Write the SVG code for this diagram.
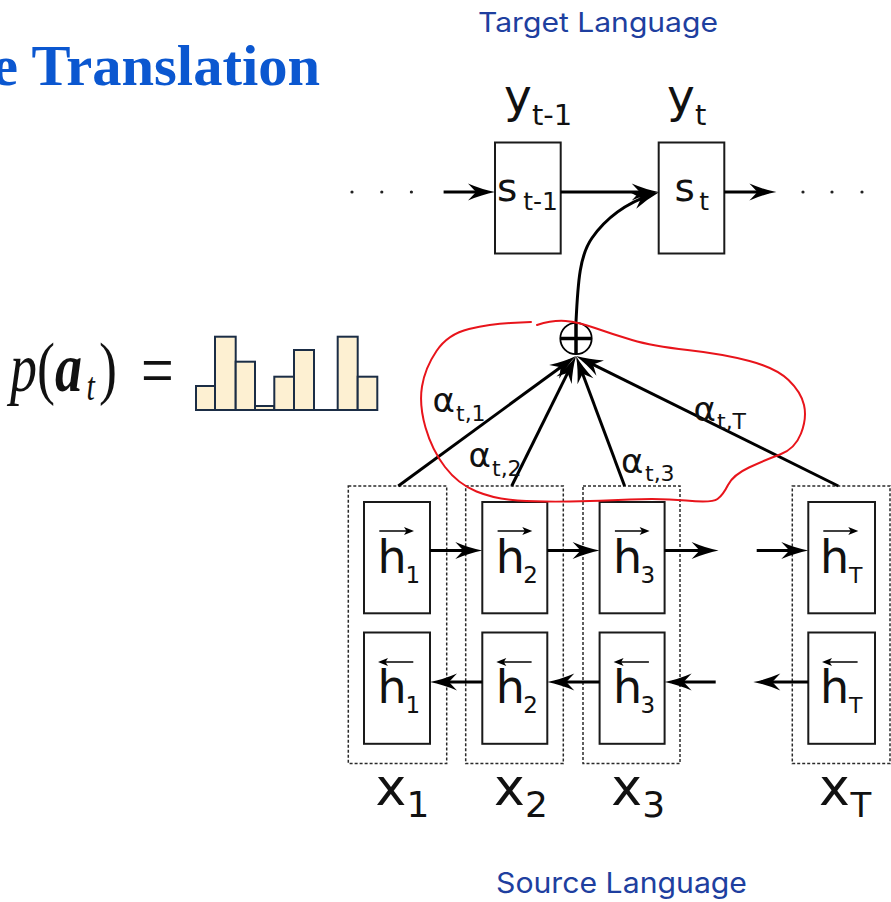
<svg xmlns="http://www.w3.org/2000/svg" width="891" height="902" viewBox="0 0 891 902">
  <style>
    .title { font-family: "Liberation Serif", "DejaVu Serif", serif; font-weight: bold; fill: #0b57d0; }
    .lang { font-family: Inter, "Liberation Sans", sans-serif; fill: #1e3f9f; }
    .lbl { font-family: "DejaVu Sans", "Liberation Sans", sans-serif; fill: #111; }
    .math { font-family: "Liberation Serif", "DejaVu Serif", serif; fill: #111; }
    .cell { fill: #fff; stroke: #1a1a1a; stroke-width: 2; }
    .group { fill: none; stroke: #2a2a2a; stroke-width: 1.5; stroke-dasharray: 3 2; }
    .edge { fill: none; stroke: #000; stroke-width: 3; marker-end: url(#stealth); }
    .vec { stroke: #000; stroke-width: 1.5; }
    .bar { fill: #fdf0d2; stroke: #1b2d45; stroke-width: 2; }
    .dot { fill: #222; }
  </style>
  <defs>
    <!-- barbed arrowhead; tip sits 8px past the line end -->
    <marker id="stealth" markerUnits="userSpaceOnUse" viewBox="-24 -12 34 24" refX="0" refY="0" markerWidth="34" markerHeight="24" orient="auto" overflow="visible">
      <path d="M8,0 Q-5,-2.5 -19,-8.5 L-11,0 L-19,8.5 Q-5,2.5 8,0 Z" fill="#000"/>
    </marker>
  </defs>

  <!-- heading -->
  <text class="title" x="-8" y="85" font-size="58" textLength="328" lengthAdjust="spacingAndGlyphs">e Translation</text>
  <text class="lang" x="598" y="32" font-size="27" text-anchor="middle" textLength="240" lengthAdjust="spacingAndGlyphs">Target Language</text>
  <text class="lang" x="621.5" y="893" font-size="28" text-anchor="middle" textLength="251" lengthAdjust="spacingAndGlyphs">Source Language</text>

  <!-- attention distribution p(a_t) -->
  <g id="distribution">
    <g transform="translate(0,391) scale(1,1.3) translate(0,-391)">
      <text class="math" y="391" font-size="54"><tspan x="10" font-style="italic">p</tspan><tspan x="37">(</tspan><tspan x="55" font-style="italic" font-weight="bold">a</tspan><tspan x="86.5" y="398" font-size="30" font-style="italic">t</tspan><tspan x="99" y="391">)</tspan><tspan x="141" y="395" font-size="58">=</tspan></text>
    </g>
    <rect class="bar" x="196" y="386" width="19" height="24"/>
    <rect class="bar" x="215" y="336.7" width="20.7" height="73.3"/>
    <rect class="bar" x="235.7" y="361.7" width="19.3" height="48.3"/>
    <rect class="bar" x="255" y="406" width="19.3" height="4"/>
    <rect class="bar" x="274.3" y="376.7" width="19.7" height="33.3"/>
    <rect class="bar" x="294" y="350" width="20" height="60"/>
    <rect class="bar" x="337.7" y="336.7" width="20" height="73.3"/>
    <rect class="bar" x="357.7" y="376.7" width="19.6" height="33.3"/>
    <line x1="196" y1="410" x2="377.3" y2="410" stroke="#1b2d45" stroke-width="2"/>
  </g>

  <!-- decoder states -->
  <g id="s-prev">
    <rect class="cell" x="495" y="142.5" width="65.7" height="111"/>
    <text class="lbl" x="497" y="201" font-size="39">s</text>
    <text class="lbl" x="523.3" y="210" font-size="25">t-1</text>
    <text class="lbl" x="504" y="112" font-size="47">y</text>
    <text class="lbl" x="532" y="125" font-size="29">t-1</text>
  </g>
  <g id="s-cur">
    <rect class="cell" x="658.7" y="142.5" width="65.6" height="111"/>
    <text class="lbl" x="674.5" y="201" font-size="39">s</text>
    <text class="lbl" x="699.3" y="210" font-size="25">t</text>
    <text class="lbl" x="667" y="112" font-size="47">y</text>
    <text class="lbl" x="695" y="125" font-size="29">t</text>
  </g>
  <g id="ellipsis">
    <circle class="dot" cx="352" cy="192" r="1.6"/>
    <circle class="dot" cx="381.8" cy="192" r="1.6"/>
    <circle class="dot" cx="411.4" cy="192" r="1.6"/>
    <circle class="dot" cx="803" cy="192" r="1.6"/>
    <circle class="dot" cx="832" cy="192" r="1.6"/>
    <circle class="dot" cx="862" cy="192" r="1.6"/>
  </g>

  <!-- encoder annotations: one dashed column per source position -->
  <g id="col-1">
    <rect class="group" x="348.3" y="486" width="98.4" height="277.5"/>
    <rect class="cell" x="364" y="502" width="66" height="111.3"/>
    <rect class="cell" x="364" y="632.5" width="66" height="111.3"/>
    <line class="vec" x1="379.3" y1="531" x2="408" y2="531"/><path d="M414,531 L404,527 L406.5,531 L404,535 Z"/>
    <text class="lbl" x="377.5" y="573" font-size="46">h</text>
    <text class="lbl" x="405.6" y="583" font-size="23">1</text>
    <line class="vec" x1="384" y1="662" x2="413.3" y2="662"/><path d="M378,662 L388,658 L385.5,662 L388,666 Z"/>
    <text class="lbl" x="377.5" y="703" font-size="46">h</text>
    <text class="lbl" x="405.6" y="713" font-size="23">1</text>
    <text class="lbl" x="375.5" y="805" font-size="52">x</text>
    <text class="lbl" x="406.5" y="817" font-size="36">1</text>
  </g>
  <g id="col-2">
    <rect class="group" x="465.7" y="486" width="97.6" height="277.5"/>
    <rect class="cell" x="482.3" y="502" width="65" height="111.3"/>
    <rect class="cell" x="482.3" y="632.5" width="65" height="111.3"/>
    <line class="vec" x1="497.6" y1="531" x2="526.3" y2="531"/><path d="M532.3,531 L522.3,527 L524.8,531 L522.3,535 Z"/>
    <text class="lbl" x="495.8" y="573" font-size="46">h</text>
    <text class="lbl" x="523.3" y="583" font-size="23">2</text>
    <line class="vec" x1="502.3" y1="662" x2="531.6" y2="662"/><path d="M496.3,662 L506.3,658 L503.8,662 L506.3,666 Z"/>
    <text class="lbl" x="495.8" y="703" font-size="46">h</text>
    <text class="lbl" x="523.3" y="713" font-size="23">2</text>
    <text class="lbl" x="493.9" y="805" font-size="52">x</text>
    <text class="lbl" x="524.9" y="817" font-size="36">2</text>
  </g>
  <g id="col-3">
    <rect class="group" x="583" y="486" width="97" height="277.5"/>
    <rect class="cell" x="599.6" y="502" width="65" height="111.3"/>
    <rect class="cell" x="599.6" y="632.5" width="65" height="111.3"/>
    <line class="vec" x1="614.9" y1="531" x2="643.6" y2="531"/><path d="M649.6,531 L639.6,527 L642.1,531 L639.6,535 Z"/>
    <text class="lbl" x="613.1" y="573" font-size="46">h</text>
    <text class="lbl" x="640.6" y="583" font-size="23">3</text>
    <line class="vec" x1="619.6" y1="662" x2="648.9" y2="662"/><path d="M613.6,662 L623.6,658 L621.1,662 L623.6,666 Z"/>
    <text class="lbl" x="613.1" y="703" font-size="46">h</text>
    <text class="lbl" x="640.6" y="713" font-size="23">3</text>
    <text class="lbl" x="611.2" y="805" font-size="52">x</text>
    <text class="lbl" x="642.2" y="817" font-size="36">3</text>
  </g>
  <g id="col-T">
    <rect class="group" x="792.3" y="486" width="97.7" height="277.5"/>
    <rect class="cell" x="808.3" y="502" width="66.7" height="111.3"/>
    <rect class="cell" x="808.3" y="632.5" width="66.7" height="111.3"/>
    <line class="vec" x1="823.3" y1="531" x2="852.3" y2="531"/><path d="M858.3,531 L848.3,527 L850.8,531 L848.3,535 Z"/>
    <text class="lbl" x="820" y="573" font-size="46">h</text>
    <text class="lbl" x="849" y="583" font-size="22">T</text>
    <line class="vec" x1="828" y1="662" x2="857.6" y2="662"/><path d="M822,662 L832,658 L829.5,662 L832,666 Z"/>
    <text class="lbl" x="820" y="703" font-size="46">h</text>
    <text class="lbl" x="849" y="713" font-size="22">T</text>
    <text class="lbl" x="819" y="805" font-size="52">x</text>
    <text class="lbl" x="850.5" y="817" font-size="34">T</text>
  </g>

  <!-- recurrences, attention weights and context -->
  <g id="connectors">
    <line class="edge" x1="443.6" y1="192" x2="487" y2="192"/>
    <line class="edge" x1="560.7" y1="192" x2="650.7" y2="192"/>
    <line class="edge" x1="724.3" y1="192" x2="768.4" y2="192"/>

    <line class="edge" x1="430" y1="550.5" x2="474.3" y2="550.5"/>
    <line class="edge" x1="547.3" y1="550.5" x2="591.6" y2="550.5"/>
    <line class="edge" x1="664.6" y1="550.5" x2="710.6" y2="550.5"/>
    <line class="edge" x1="756.7" y1="550.5" x2="800.3" y2="550.5"/>

    <line class="edge" x1="482.3" y1="682" x2="438" y2="682"/>
    <line class="edge" x1="599.6" y1="682" x2="555.3" y2="682"/>
    <line class="edge" x1="715.7" y1="682" x2="672.6" y2="682"/>
    <line class="edge" x1="808.3" y1="682" x2="761.3" y2="682"/>

    <line class="edge" x1="398.3" y1="486" x2="569.5" y2="360.7"/>
    <line class="edge" x1="511.7" y1="486" x2="572.5" y2="363.2"/>
    <line class="edge" x1="624.6" y1="486" x2="578.8" y2="363.5"/>
    <line class="edge" x1="838.3" y1="486" x2="583.2" y2="359.6"/>

    <path class="edge" d="M576,322 C578,280 580,255 592,238 C604,221 624,204 651.5,194.7"/>

    <text class="lbl" x="432.5" y="412" font-size="34">α</text>
    <text class="lbl" x="456" y="421" font-size="22">t,1</text>
    <text class="lbl" x="468.5" y="466.5" font-size="34">α</text>
    <text class="lbl" x="492" y="475.5" font-size="22">t,2</text>
    <text class="lbl" x="621" y="472.5" font-size="34">α</text>
    <text class="lbl" x="645" y="481" font-size="22">t,3</text>
    <text class="lbl" x="693.5" y="420.5" font-size="34">α</text>
    <text class="lbl" x="717" y="428.5" font-size="22">t,T</text>
  </g>

  <!-- weighted sum node -->
  <g id="sum">
    <circle cx="576" cy="338.5" r="15.7" fill="#fff" stroke="#000" stroke-width="1.8"/>
    <line x1="560.5" y1="338.5" x2="591.5" y2="338.5" stroke="#000" stroke-width="3.5"/>
    <line x1="576" y1="323" x2="576" y2="354" stroke="#000" stroke-width="3.5"/>
  </g>

  <!-- hand-drawn highlight around the attention weights -->
  <path id="highlight" fill="none" stroke="#e8141b" stroke-width="2" stroke-linecap="round"
        d="M531,322 L510.5,323 Q490,324 469,329 Q448,334 436.5,351 Q425,368 422,386.5 Q419,405 425.5,427.5 Q432,450 445,467 Q458,484 476.5,491.5 Q495,499 517.5,500.5 Q540,502 570,501.5 Q600,501 630,499.5 Q660,498 686,500.5 Q712,503 717.5,499 Q723,495 728,485 Q733,475 749,467.5 Q765,460 780,454.5 Q795,449 801,433.5 Q807,418 804,405 Q801,392 788.5,380 Q776,368 749.5,361 Q723,354 687.5,350 Q652,346 632,340 Q612,334 595,328 Q578,322 565.5,321 Q553,320 537,325"/>
</svg>
